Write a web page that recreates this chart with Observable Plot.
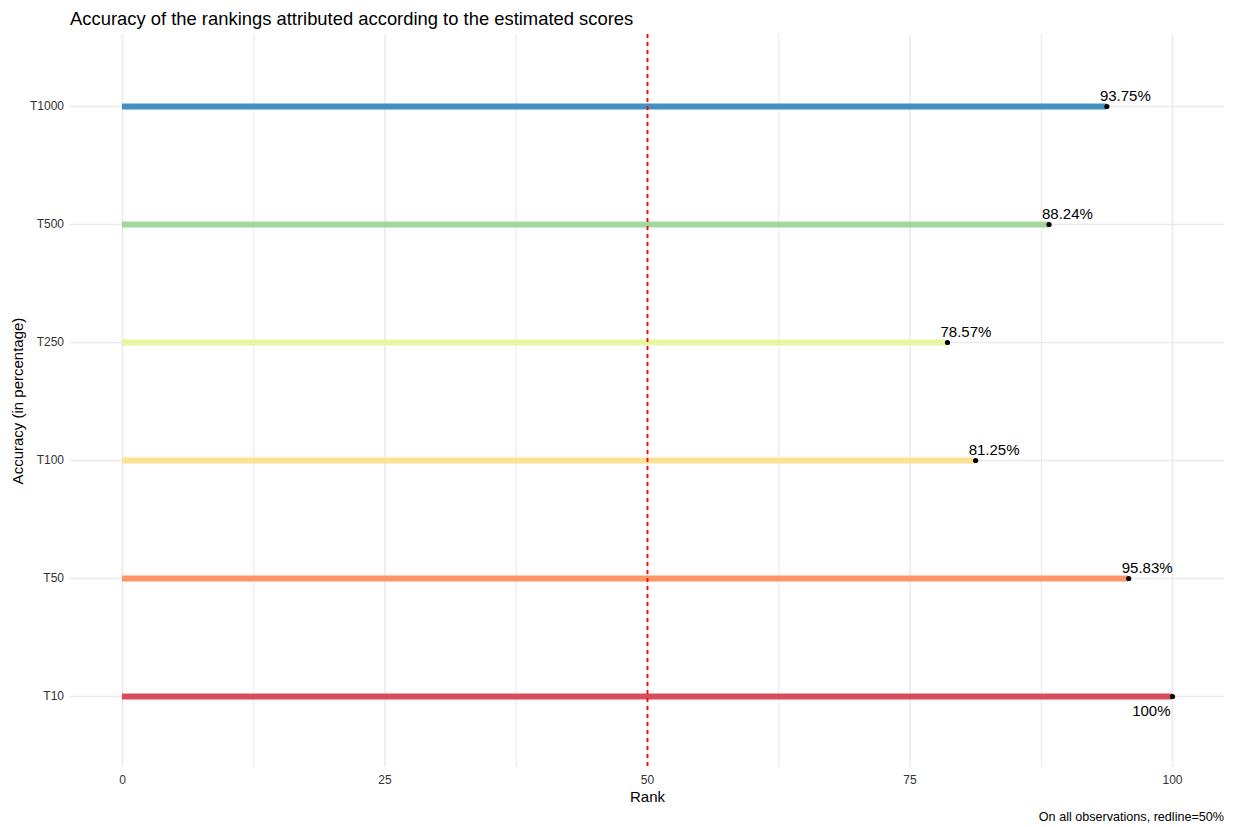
<!DOCTYPE html>
<html>
<head>
<meta charset="utf-8">
<script src="https://cdn.jsdelivr.net/npm/d3@7"></script>
<script src="https://cdn.jsdelivr.net/npm/@observablehq/plot@0.6"></script>
<style>
  html, body { margin: 0; padding: 0; background: #fff; }
  body { width: 1234px; height: 827px; position: relative; overflow: hidden; font-family: "Liberation Sans", Arial, sans-serif; }
  #title { position: absolute; left: 70px; top: 8px; font-size: 18.4px; color: #000; line-height: 22px; }
  #chart { position: absolute; left: 0; top: 34px; }
  #caption { position: absolute; right: 10px; top: 810px; font-size: 12.6px; color: #000; line-height: 14px; }
</style>
</head>
<body>
<div id="title">Accuracy of the rankings attributed according to the estimated scores</div>
<div id="chart"></div>
<div id="caption">On all observations, redline=50%</div>
<script>
const categories = ["T10", "T50", "T100", "T250", "T500", "T1000"];
const accuracy = [100, 95.83, 81.25, 78.57, 88.24, 93.75];
const colors = ["#D53E4F", "#FC8D59", "#FEE08B", "#E6F598", "#99D594", "#3288BD"];
const xTicks = [0, 25, 50, 75, 100];
const xMinorTicks = [12.5, 37.5, 62.5, 87.5];
const redline = 50;

const data = categories.map((c, i) => ({cat: c, value: accuracy[i], label: accuracy[i] + "%"}));
const above = data.filter(d => d.value < 100);
const below = data.filter(d => d.value >= 100);

const chart = Plot.plot({
  width: 1234,
  height: 770,
  marginLeft: 69.5,
  marginRight: 9.5,
  marginTop: 0,
  marginBottom: 37,
  style: {fontFamily: "Liberation Sans, Arial, sans-serif", background: "#fff"},
  x: {domain: [-5, 105]},
  y: {type: "point", domain: categories.slice().reverse(), padding: 0.6},
  color: {domain: categories, range: colors},
  marks: [
    Plot.ruleX(xMinorTicks, {stroke: "#ebebeb", strokeWidth: 1.2}),
    Plot.ruleX(xTicks, {stroke: "#ebebeb", strokeWidth: 1.6}),
    Plot.ruleY(categories, {y: d => d, stroke: "#ebebeb", strokeWidth: 1.6}),
    Plot.axisX({ticks: xTicks, tickSize: 0, tickPadding: 8, fontSize: 12, color: "#333",
      label: "Rank", labelAnchor: "center", labelArrow: "none", labelOffset: 34}),
    Plot.axisY({tickSize: 0, tickPadding: 6, fontSize: 12, color: "#333",
      label: "Accuracy (in percentage)", labelAnchor: "center", labelArrow: "none", labelOffset: 58}),
    Plot.ruleY(data, {y: "cat", x1: 0, x2: "value", stroke: "cat", strokeWidth: 6, strokeOpacity: 0.92}),
    Plot.ruleX([redline], {stroke: "red", strokeWidth: 1.8, strokeDasharray: "4,4", ariaLabel: "redline"}),
    Plot.dot(data, {x: "value", y: "cat", r: 2.6, fill: "#000", stroke: null}),
    Plot.text(above, {x: "value", y: "cat", text: "label", textAnchor: "start", dx: -7, dy: -10, fontSize: 15, fill: "#000"}),
    Plot.text(below, {x: "value", y: "cat", text: "label", textAnchor: "end", dx: -2, dy: 15, fontSize: 15, fill: "#000"})
  ]
});
document.getElementById("chart").appendChild(chart);
chart.querySelectorAll("[aria-label='x-axis label'] text, [aria-label='y-axis label'] text").forEach(t => {
  t.setAttribute("fill", "#000");
  t.style.fontSize = "15px";
});
chart.querySelectorAll("[aria-label='redline'], [aria-label='redline'] line").forEach(el => {
  el.setAttribute("stroke", "#ff0000");
});
</script>
</body>
</html>
